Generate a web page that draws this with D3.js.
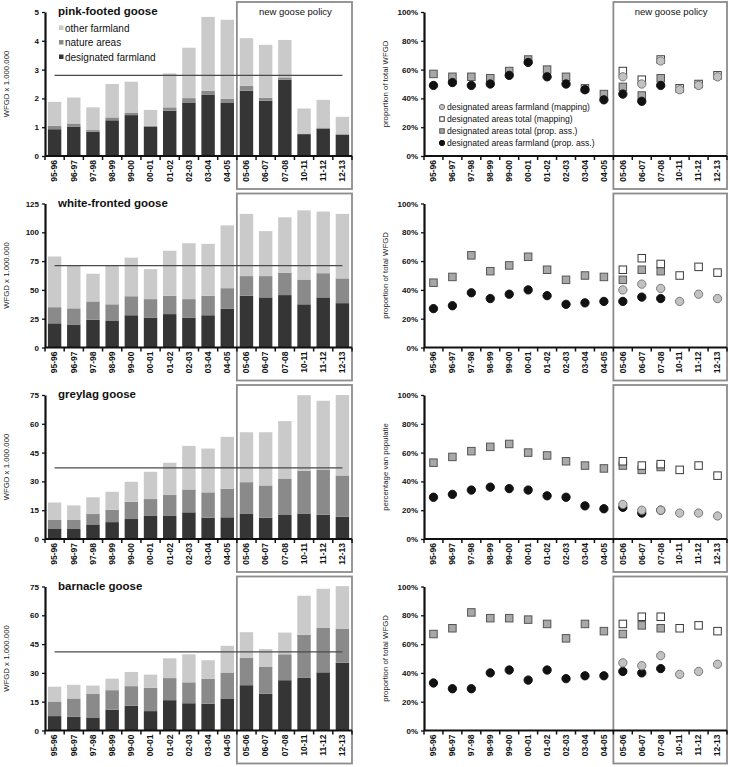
<!DOCTYPE html>
<html>
<head>
<meta charset="utf-8">
<script src="https://cdn.jsdelivr.net/npm/d3@7/dist/d3.min.js"></script>
<style>
body { margin: 0; background: #fff; }
svg { font-family: 'Liberation Sans', Arial, sans-serif; display: block; }
</style>
</head>
<body>
<div id="chart"></div>
<script>
var seasons = ['95-96','96-97','97-98','98-99','99-00','00-01','01-02','02-03','03-04','04-05','05-06','06-07','07-08','10-11','11-12','12-13'];

// WFGD x 1.000.000, stacked parts
var pinkDesignated = [0.93,1.01,0.84,1.24,1.42,1.01,1.57,1.86,2.12,1.86,2.27,1.92,2.65,0.76,0.95,0.74];
var pinkNature     = [0.12,0.12,0.06,0.10,0.09,0.04,0.12,0.15,0.15,0.13,0.17,0.10,0.08,0.02,0.04,0.02];
var pinkOther      = [0.83,0.90,0.79,1.16,1.07,0.55,1.18,1.75,2.56,2.74,1.65,1.84,1.30,0.87,0.96,0.60];

var whiteDesignated = [21,20,24,23,28,26,29,26,28,33.5,45,43.5,45.5,37.5,43.5,38.5];
var whiteNature     = [14,14,16,14.5,16.5,16,16,16,17,18,17,18.5,19.5,21.5,21,21.5];
var whiteOther      = [44,37,24,33.5,33.5,26,39,48.5,45,54.5,54,39,48,60,53.5,56];

var greyDesignated = [5.5,5.2,7.6,8.8,10.4,12,12,13.9,11.1,11.3,13.3,11.1,12.5,13.3,12.7,11.6];
var greyNature     = [4.4,4.7,5.4,6.5,9.0,8.8,10.9,11.9,13.2,14.9,16.3,16.8,19.0,22.2,23.5,21.5];
var greyOther      = [9.1,7.6,8.7,9.3,10.4,14.2,16.8,22.7,22.8,27.0,26.0,27.7,29.9,39.4,35.8,41.9];

var barnDesignated = [7.5,7.1,6.8,10.8,12.9,10.1,15.8,14.2,14,16.7,23.6,19.1,26.2,27.4,30.3,35.3];
var barnNature     = [7.6,9.6,12.2,10.2,10.2,12.2,11.5,10.9,12.9,13.5,14.2,14.0,13.5,22.4,23.3,17.8];
var barnOther      = [7.7,7.1,4.4,6.0,7.4,6.8,10.3,14.6,9.7,13.9,13.4,9.3,11.3,20.4,20.2,22.1];

var refLines = [2.8, 71, 37, 41];
var yMaxes = [5, 125, 75, 75];
var yTickSteps = [1, 25, 15, 15];

// proportions (%), null = not available
var n = null;
var pinkPropTotal = [57,55,55,54,59,67,60,55,47,43,48,42,54,n,n,n];
var pinkPropFarm  = [49,51,49,50,56,65,55,50,46,39,43,38,49,n,n,n];
var pinkMapTotal  = [n,n,n,n,n,n,n,n,n,n,59,53,67,47,50,56];
var pinkMapFarm   = [n,n,n,n,n,n,n,n,n,n,55,50,66,46,49,55];

var whitePropTotal = [45,49,64,53,57,63,54,47,50,49,47,54,53,n,n,n];
var whitePropFarm  = [27,29,38,34,37,40,36,30,31,32,32,35,34,n,n,n];
var whiteMapTotal  = [n,n,n,n,n,n,n,n,n,n,54,62,58,50,56,52];
var whiteMapFarm   = [n,n,n,n,n,n,n,n,n,n,40,44,41,32,37,34];

var greyPropTotal = [53,57,61,64,66,60,58,54,51,49,51,48,50,n,n,n];
var greyPropFarm  = [29,31,34,36,35,34,30,29,23,21,22,18,20,n,n,n];
var greyMapTotal  = [n,n,n,n,n,n,n,n,n,n,54,51,52,48,51,44];
var greyMapFarm   = [n,n,n,n,n,n,n,n,n,n,24,20,20,18,18,16];

var barnPropTotal = [67,71,82,78,78,77,74,64,74,69,67,73,71,n,n,n];
var barnPropFarm  = [33,29,29,40,42,35,42,36,38,38,41,40,43,n,n,n];
var barnMapTotal  = [n,n,n,n,n,n,n,n,n,n,74,79,79,71,73,69];
var barnMapFarm   = [n,n,n,n,n,n,n,n,n,n,47,45,52,39,41,46];

var titles = ['pink-footed goose','white-fronted goose','greylag goose','barnacle goose'];
var rightTitles = ['proportion of total WFGD','proportion of total WFGD','percentage van populatie','proportion of total WFGD'];
var barKeys = ['designated','nature','other'];
var barLabels = {designated: 'designated farmland', nature: 'nature areas', other: 'other farmland'};
var scatterLabels = ['designated areas farmland (mapping)','designated areas total (mapping)','designated areas total (prop. ass.)','designated areas farmland (prop. ass.)'];

var bars = [
	[pinkDesignated, pinkNature, pinkOther],
	[whiteDesignated, whiteNature, whiteOther],
	[greyDesignated, greyNature, greyOther],
	[barnDesignated, barnNature, barnOther]
];
var props = [
	[pinkMapFarm, pinkMapTotal, pinkPropTotal, pinkPropFarm],
	[whiteMapFarm, whiteMapTotal, whitePropTotal, whitePropFarm],
	[greyMapFarm, greyMapTotal, greyPropTotal, greyPropFarm],
	[barnMapFarm, barnMapTotal, barnPropTotal, barnPropFarm]
];

var W = 730, H = 767;
var rowStep = 191.5, plotH = 144;
var left = {x0: 45, x1: 352}, right = {x0: 424, x1: 727};
var barColor = d3.scaleOrdinal().domain(barKeys).range(['#353535', '#8a8a8a', '#cacaca']);

var svg = d3.select('#chart').append('svg').attr('width', W).attr('height', H);

function bandScale(side){
	return d3.scaleBand().domain(seasons).range([side.x0, side.x1]).paddingInner(0.3).paddingOuter(0.15);
}

function drawFrame(g, x, y, top, withLabel){
	var step = x.step();
	var bx = x.range()[0] + step * 10;
	g.append('rect')
		.attr('x', bx).attr('y', top - 10)
		.attr('width', x.range()[1] - bx).attr('height', plotH + 43)
		.attr('fill', 'none').attr('stroke', '#8c8c8c').attr('stroke-width', 1.8);
	if(withLabel){
		g.append('text')
			.attr('x', (bx + x.range()[1]) / 2 + 1).attr('y', top + 3)
			.attr('text-anchor', 'middle').attr('font-size', 9.5).attr('fill', '#111')
			.text('new goose policy');
	}
}

function drawXAxis(g, x, y0){
	var step = x.step();
	var ax = g.append('g').attr('transform', 'translate(0,' + y0 + ')')
		.call(d3.axisBottom(x).tickSize(0).tickPadding(0));
	ax.select('.domain').remove();
	ax.selectAll('text')
		.attr('transform', 'rotate(-90)')
		.attr('x', -4).attr('y', 0).attr('dy', '0.33em')
		.attr('text-anchor', 'end')
		.attr('font-size', 8.5).attr('font-weight', 'bold').attr('fill', '#111');
	g.selectAll(null).data(d3.range(seasons.length + 1)).enter().append('line')
		.attr('x1', function(i){ return x.range()[0] + i * step; })
		.attr('x2', function(i){ return x.range()[0] + i * step; })
		.attr('y1', y0).attr('y2', y0 + 4)
		.attr('stroke', '#111').attr('stroke-width', 1.5);
	g.append('line')
		.attr('x1', x.range()[0]).attr('x2', x.range()[1])
		.attr('y1', y0).attr('y2', y0)
		.attr('stroke', '#111').attr('stroke-width', 2.2);
}

function drawYAxis(g, y, x0, ticks, fmt){
	var ax = g.append('g').attr('transform', 'translate(' + x0 + ',0)')
		.call(d3.axisLeft(y).tickValues(ticks).tickSize(3).tickSizeOuter(0).tickFormat(fmt));
	ax.select('.domain').attr('stroke', '#111').attr('stroke-width', 2.2);
	ax.selectAll('.tick line').attr('stroke', '#111').attr('stroke-width', 1.3);
	ax.selectAll('text').attr('font-size', 8).attr('font-weight', 'bold').attr('fill', '#111')
		.attr('font-family', "'Liberation Sans', Arial, sans-serif");
	ax.attr('font-family', null);
}

function yTitle(g, text, cx, cy){
	g.append('text')
		.attr('transform', 'translate(' + cx + ',' + cy + ') rotate(-90)')
		.attr('text-anchor', 'middle').attr('font-size', 7.8).attr('fill', '#222')
		.text(text);
}

function drawBarPanel(i){
	var top = 12 + i * rowStep, bottom = top + plotH;
	var g = svg.append('g');
	var x = bandScale(left);
	var y = d3.scaleLinear().domain([0, yMaxes[i]]).range([bottom, top]);

	drawFrame(g, x, y, top, i === 0);

	var rows = seasons.map(function(s, j){
		return {season: s, designated: bars[i][0][j], nature: bars[i][1][j], other: bars[i][2][j]};
	});
	var series = d3.stack().keys(barKeys)(rows);

	g.append('g').selectAll('g')
		.data(series).enter().append('g')
			.attr('fill', function(d){ return barColor(d.key); })
		.selectAll('rect')
		.data(function(d){ return d; })
		.enter().append('rect')
			.attr('x', function(d){ return x(d.data.season); })
			.attr('width', x.bandwidth())
			.attr('y', function(d){ return y(d[1]); })
			.attr('height', function(d){ return y(d[0]) - y(d[1]); });

	var line = d3.line()
		.x(function(d){ return x(d) + x.bandwidth() / 2; })
		.y(function(){ return y(refLines[i]); });
	g.append('path').datum(seasons)
		.attr('d', line).attr('fill', 'none')
		.attr('stroke', '#4a4a4a').attr('stroke-width', 1.3);

	drawYAxis(g, y, left.x0, d3.range(0, yMaxes[i] + yTickSteps[i] / 2, yTickSteps[i]), d3.format('d'));
	drawXAxis(g, x, bottom);
	yTitle(g, 'WFGD x 1.000.000', 9, (top + bottom) / 2);

	g.append('text')
		.attr('x', 58).attr('y', top + 3)
		.attr('font-size', 11.5).attr('font-weight', 'bold').attr('fill', '#111')
		.text(titles[i]);

	if(i === 0){
		var lg = g.append('g').selectAll('g')
			.data(barKeys.slice().reverse()).enter().append('g')
			.attr('transform', function(d, k){ return 'translate(59,' + (top + 16 + k * 14.5) + ')'; });
		lg.append('rect').attr('x', 0).attr('y', -2.5).attr('width', 4.5).attr('height', 4.5)
			.attr('fill', function(d){ return barColor(d); });
		lg.append('text').attr('x', 6).attr('dy', '0.35em')
			.attr('font-size', 10).attr('fill', '#111')
			.text(function(d){ return barLabels[d]; });
	}
}

var markerStyles = [
	{shape: 'circle', fill: '#c2c2c2', stroke: '#7a7a7a'},
	{shape: 'square', fill: '#ffffff', stroke: '#3a3a3a'},
	{shape: 'square', fill: '#a8a8a8', stroke: '#555555'},
	{shape: 'circle', fill: '#111111', stroke: '#111111'}
];

function addMarker(sel, style, size){
	if(style.shape === 'square'){
		sel.append('rect')
			.attr('x', -size / 2).attr('y', -size / 2).attr('width', size).attr('height', size)
			.attr('fill', style.fill).attr('stroke', style.stroke).attr('stroke-width', 1);
	} else {
		sel.append('circle').attr('r', size / 2 + 0.4)
			.attr('fill', style.fill).attr('stroke', style.stroke).attr('stroke-width', 1);
	}
}

function drawPropPanel(i){
	var top = 12 + i * rowStep, bottom = top + plotH;
	var g = svg.append('g');
	var x = bandScale(right);
	var y = d3.scaleLinear().domain([0, 1]).range([bottom, top]);

	drawFrame(g, x, y, top, i === 0);

	// draw order: prop. ass. first, mapping on top
	[2, 3, 1, 0].forEach(function(k){
		var pts = seasons.map(function(s, j){ return {season: s, v: props[i][k][j]}; })
			.filter(function(d){ return d.v !== null; });
		g.append('g').selectAll('g')
			.data(pts).enter().append('g')
			.attr('transform', function(d){
				return 'translate(' + (x(d.season) + x.bandwidth() / 2) + ',' + y(d.v / 100) + ')';
			})
			.each(function(){ addMarker(d3.select(this), markerStyles[k], 7.5); });
	});

	drawYAxis(g, y, right.x0, d3.range(0, 1.01, 0.2), d3.format('.0%'));
	drawXAxis(g, x, bottom);
	yTitle(g, rightTitles[i], 388, (top + bottom) / 2);

	if(i === 0){
		var lg = g.append('g').selectAll('g')
			.data(scatterLabels).enter().append('g')
			.attr('transform', function(d, k){ return 'translate(442,' + (top + 95 + k * 12) + ')'; });
		lg.each(function(d, k){ addMarker(d3.select(this), markerStyles[k], 4.5); });
		lg.append('text').attr('x', 5).attr('dy', '0.35em')
			.attr('font-size', 8.6).attr('fill', '#111')
			.text(function(d){ return d; });
	}
}

for(var i = 0; i < 4; i++){
	drawBarPanel(i);
	drawPropPanel(i);
}
</script>
</body>
</html>
